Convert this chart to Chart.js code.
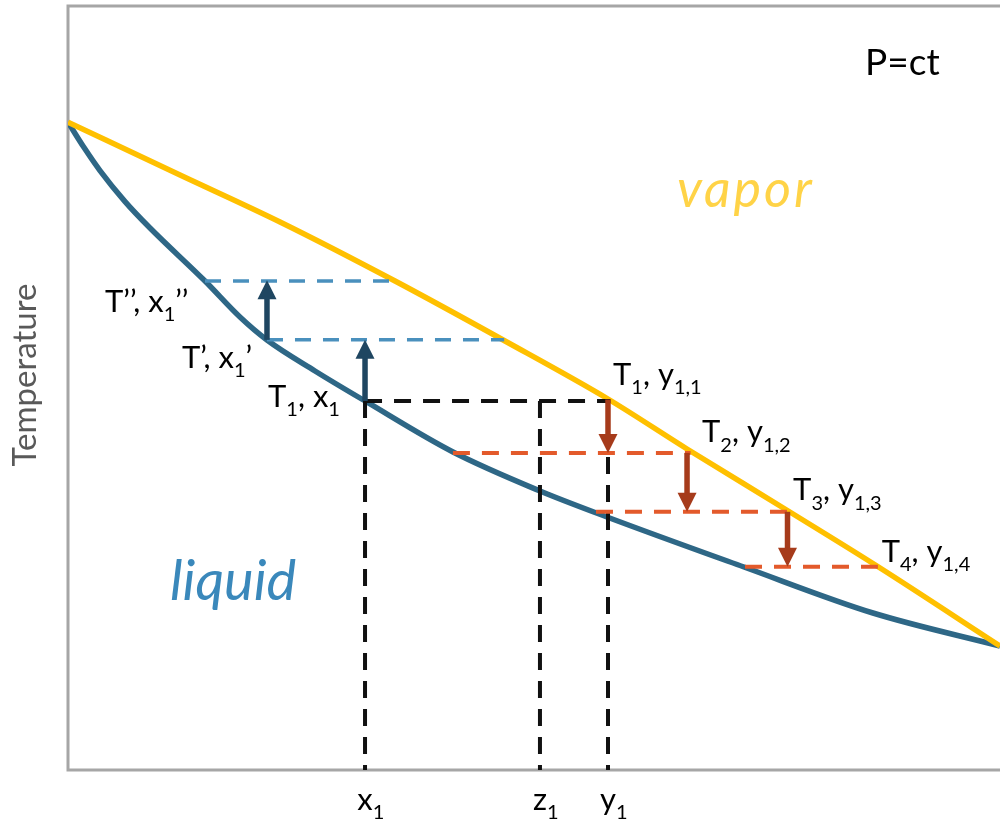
<!DOCTYPE html>
<html>
<head>
<meta charset="utf-8">
<script src="https://cdn.jsdelivr.net/npm/chart.js@4.4.1/dist/chart.umd.min.js"></script>
<style>
  html, body { margin: 0; padding: 0; background: #fff; }
  canvas { display: block; }
</style>
</head>
<body>
<canvas id="chart" width="1000" height="826"></canvas>
<script>
// composition (0..1) vs temperature (0..1, arbitrary units)
const liquidX = [0, 0.0172, 0.0343, 0.0612, 0.088, 0.147, 0.1845, 0.2135, 0.265, 0.3187, 0.4131, 0.5064, 0.5783, 0.7253, 0.8637, 1];
const liquidT = [0.848, 0.8147, 0.7846, 0.744, 0.7094, 0.640, 0.5929, 0.5628, 0.5223, 0.483, 0.4162, 0.3652, 0.3312, 0.2657, 0.2055, 0.1623];
const vaporX = [0, 0.1202, 0.2275, 0.3509, 0.4689, 0.5794, 0.6642, 0.7693, 0.868, 1];
const vaporT = [0.848, 0.7788, 0.7173, 0.640, 0.5615, 0.4856, 0.4202, 0.3416, 0.267, 0.1623];

// tie lines: [xFrom, xTo, T]
const heatingTies = [[0.147, 0.352, 0.640], [0.2135, 0.468, 0.563]];
const feedTie = [0.3187, 0.582, 0.483];
const coolingTies = [[0.413, 0.668, 0.415], [0.5665, 0.772, 0.338], [0.7264, 0.869, 0.266]];

// vertical drops to the axis
const markX = [0.3187, 0.5064, 0.5794];
const markNames = ['x', 'z', 'y'];

// arrows: [x, Tfrom, Tto]
const riseArrows = [[0.2135, 0.563, 0.641], [0.3187, 0.483, 0.563]];
const dropArrows = [[0.5794, 0.485, 0.415], [0.6642, 0.415, 0.338], [0.772, 0.338, 0.266]];

// point labels, '_' marks a subscript part
const noteParts = [
  ['T’’, x', '_1', '’’'],
  ['T’, x', '_1', '’'],
  ['T', '_1', ', x', '_1'],
  ['T', '_1', ', y', '_1,1'],
  ['T', '_2', ', y', '_1,2'],
  ['T', '_3', ', y', '_1,3'],
  ['T', '_4', ', y', '_1,4'],
];
const noteX = [0.0397, 0.1223, 0.2146, 0.5848, 0.6803, 0.778, 0.873];
const noteT = [0.5995, 0.526, 0.475, 0.504, 0.429, 0.353, 0.272];

Chart.defaults.font.family = 'Lato';

const line = (pts, color, width, dash) => ({
  data: pts,
  showLine: true,
  borderColor: color,
  borderWidth: width,
  borderDash: dash || [],
  pointRadius: 0,
  fill: false,
});

const datasets = [];
datasets.push(Object.assign(line(liquidX.map((x, i) => ({ x, y: liquidT[i] })), '#2e6786', 5.5),
  { cubicInterpolationMode: 'monotone', order: 5 }));
datasets.push(Object.assign(line(vaporX.map((x, i) => ({ x, y: vaporT[i] })), '#ffc000', 5.5),
  { cubicInterpolationMode: 'monotone', order: 4 }));
heatingTies.forEach(([a, b, t]) => {
  datasets.push(Object.assign(line([{ x: a, y: t }, { x: b, y: t }], '#4a90bd', 3.5, [16, 12]), { order: 3 }));
});
datasets.push(Object.assign(line([{ x: feedTie[0], y: feedTie[2] }, { x: feedTie[1], y: feedTie[2] }], '#111111', 4, [17, 12]), { order: 3 }));
markX.forEach(x => {
  datasets.push(Object.assign(line([{ x, y: feedTie[2] }, { x, y: 0 }], '#111111', 4, [17, 11]), { order: 3 }));
});
coolingTies.forEach(([a, b, t]) => {
  datasets.push(Object.assign(line([{ x: a, y: t }, { x: b, y: t }], '#e35a2b', 4, [17, 12]), { order: 2 }));
});
riseArrows.forEach(([x, a, b]) => {
  datasets.push({ data: [{ x, y: a }, { x, y: b }], showLine: false, pointRadius: 0, arrowColor: '#1f4661', order: 1 });
});
dropArrows.forEach(([x, a, b]) => {
  datasets.push({ data: [{ x, y: a }, { x, y: b }], showLine: false, pointRadius: 0, arrowColor: '#a63b1b', order: 1 });
});

function richText(ctx, parts, x, y, size) {
  let cx = x;
  parts.forEach(p => {
    const sub = p[0] === '_';
    const t = sub ? p.slice(1) : p;
    ctx.font = (sub ? Math.round(size * 0.65) : size) + 'px Lato';
    ctx.fillText(t, cx, sub ? y + size * 0.3 : y);
    cx += ctx.measureText(t).width;
  });
}

const decorations = {
  id: 'decorations',
  beforeDatasetsDraw(chart) {
    const { ctx, chartArea } = chart;
    ctx.save();
    ctx.strokeStyle = '#a6a6a6';
    ctx.lineWidth = 3;
    ctx.beginPath();
    ctx.moveTo(chart.width, chartArea.top);
    ctx.lineTo(chartArea.left, chartArea.top);
    ctx.lineTo(chartArea.left, chartArea.bottom);
    ctx.lineTo(chart.width, chartArea.bottom);
    ctx.stroke();
    ctx.restore();
  },
  afterDatasetsDraw(chart) {
    const { ctx, chartArea, scales } = chart;
    const xs = scales.x, ys = scales.y;
    ctx.save();

    // arrows
    chart.data.datasets.forEach((ds, i) => {
      if (!ds.arrowColor) return;
      const pts = chart.getDatasetMeta(i).data;
      const a = pts[0], b = pts[1];
      const dx = b.x - a.x, dy = b.y - a.y, len = Math.hypot(dx, dy);
      const ux = dx / len, uy = dy / len;
      const hl = 19, hw = 19;
      const bx = b.x - ux * hl, by = b.y - uy * hl;
      ctx.strokeStyle = ds.arrowColor;
      ctx.fillStyle = ds.arrowColor;
      ctx.lineWidth = 5.5;
      ctx.beginPath();
      ctx.moveTo(a.x, a.y);
      ctx.lineTo(bx + ux, by + uy);
      ctx.stroke();
      ctx.beginPath();
      ctx.moveTo(b.x, b.y);
      ctx.lineTo(bx - uy * hw / 2, by + ux * hw / 2);
      ctx.lineTo(bx + uy * hw / 2, by - ux * hw / 2);
      ctx.closePath();
      ctx.fill();
    });

    // point labels
    ctx.fillStyle = '#000';
    ctx.textBaseline = 'alphabetic';
    ctx.textAlign = 'left';
    noteParts.forEach((parts, i) => {
      richText(ctx, parts, xs.getPixelForValue(noteX[i]), ys.getPixelForValue(noteT[i]), 31);
    });

    // axis marks
    markX.forEach((v, i) => {
      ctx.font = '31px Lato';
      const w = ctx.measureText(markNames[i]).width;
      richText(ctx, [markNames[i], '_1'], xs.getPixelForValue(v) - w / 2, chartArea.bottom + 40, 31);
    });

    ctx.font = '37px Lato';
    ctx.fillText('P=ct', xs.getPixelForValue(0.8552), ys.getPixelForValue(0.9097));

    ctx.font = 'italic 52px Lato';
    ctx.letterSpacing = '3px';
    ctx.fillStyle = '#ffd347';
    ctx.fillText('vapor', xs.getPixelForValue(0.6534), ys.getPixelForValue(0.7369));

    ctx.font = 'italic 56px Lato';
    ctx.letterSpacing = '0px';
    ctx.fillStyle = '#3a88bb';
    ctx.fillText('liquid', xs.getPixelForValue(0.1094), ys.getPixelForValue(0.2225));

    // axis title
    ctx.translate(36, (chartArea.top + chartArea.bottom) / 2 - 13);
    ctx.rotate(-Math.PI / 2);
    ctx.textAlign = 'center';
    ctx.font = '33px Lato';
    ctx.fillStyle = '#595959';
    ctx.fillText('Temperature', 0, 0);
    ctx.restore();
  }
};

new Chart(document.getElementById('chart').getContext('2d'), {
  type: 'scatter',
  data: { datasets },
  options: {
    responsive: false,
    animation: false,
    events: [],
    layout: { padding: { left: 68, top: 6, right: 0, bottom: 56 } },
    scales: {
      x: { type: 'linear', min: 0, max: 1, display: false },
      y: { type: 'linear', min: 0, max: 1, display: false },
    },
    plugins: { legend: { display: false }, tooltip: { enabled: false } },
  },
  plugins: [decorations],
});
</script>
</body>
</html>
